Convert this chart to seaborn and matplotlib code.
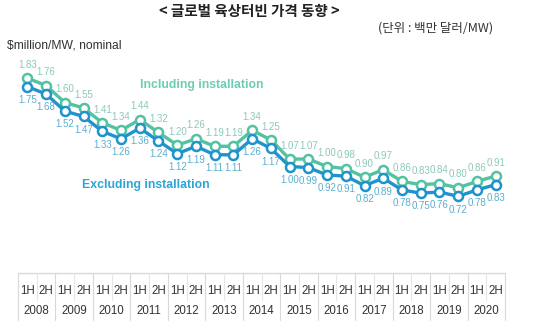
import matplotlib
matplotlib.use("Agg")
import matplotlib.pyplot as plt
import matplotlib.transforms as mtransforms
import seaborn as sns
import pandas as pd

years = ["2008", "2009", "2010", "2011", "2012", "2013", "2014",
         "2015", "2016", "2017", "2018", "2019", "2020"]
halves = ["1H", "2H"]
including = [1.83, 1.76, 1.60, 1.55, 1.41, 1.34, 1.44, 1.32, 1.20, 1.26,
             1.19, 1.19, 1.34, 1.25, 1.07, 1.07, 1.00, 0.98, 0.90, 0.97,
             0.86, 0.83, 0.84, 0.80, 0.86, 0.91]
excluding = [1.75, 1.68, 1.52, 1.47, 1.33, 1.26, 1.36, 1.24, 1.12, 1.19,
             1.11, 1.11, 1.26, 1.17, 1.00, 0.99, 0.92, 0.91, 0.82, 0.89,
             0.78, 0.75, 0.76, 0.72, 0.78, 0.83]
series_names = ["Including installation", "Excluding installation"]
title = "< 글로벌 육상터빈 가격 동향 >"
unit_note = "(단위 : 백만 달러/MW)"
y_label = "$million/MW, nominal"

periods = [f"{h} {y}" for y in years for h in halves]
idx = list(range(len(periods)))
df = pd.DataFrame({
    "idx": idx * 2,
    "value": including + excluding,
    "series": [series_names[0]] * len(idx) + [series_names[1]] * len(idx),
})

sns.set_theme(style="white")
plt.rcParams["font.family"] = ["Liberation Sans", "Noto Sans CJK KR", "DejaVu Sans"]

line_colors = {series_names[0]: "#52c2a2", series_names[1]: "#1f93cc"}
label_colors = {series_names[0]: "#8cc8bb", series_names[1]: "#5aaed0"}

fig = plt.figure(figsize=(5.33, 3.26), dpi=100)
ax = fig.add_axes([18 / 533, 1 - 273 / 326, 487 / 533, 213 / 326])

sns.lineplot(data=df, x="idx", y="value", hue="series", palette=line_colors,
             marker="o", markersize=6.5, markerfacecolor="white",
             markeredgewidth=1.8, linewidth=2.4, legend=False, ax=ax,
             zorder=3)
for line in ax.get_lines():
    line.set_markeredgecolor(line.get_color())

ax.set_xlim(-0.5, len(idx) - 0.5)
ax.set_ylim(0, 2.0)
for s in ax.spines.values():
    s.set_visible(False)
ax.set_yticks([])
ax.set_xlabel("")
ax.set_ylabel("")

# data labels
for i, v in enumerate(including):
    ax.annotate(f"{v:.2f}", (i, v), xytext=(0, 6), textcoords="offset points",
                ha="center", va="bottom", fontsize=7,
                color=label_colors[series_names[0]])
for i, v in enumerate(excluding):
    ax.annotate(f"{v:.2f}", (i, v), xytext=(0, -6), textcoords="offset points",
                ha="center", va="top", fontsize=7,
                color=label_colors[series_names[1]])

# series names
fig.text(140 / 533, 1 - 85 / 326, series_names[0], fontsize=8.8, fontweight="bold",
         color="#6ccdb2", va="center", ha="left")
fig.text(82 / 533, 1 - 185 / 326, series_names[1], fontsize=8.8, fontweight="bold",
         color="#2aa6d6", va="center", ha="left")

# table-like x axis
ax.set_xticks(idx)
ax.set_xticklabels([h for y in years for h in halves], fontsize=8.3, color="#333333")
ax.tick_params(axis="x", length=0, pad=9)
trans = mtransforms.blended_transform_factory(ax.transData, ax.transAxes)
for k, y in enumerate(years):
    ax.text(2 * k + 0.5, -0.178, y, transform=trans, ha="center", va="center",
            fontsize=8.3, color="#333333")
ax.plot([-0.5, len(idx) - 0.5], [0, 0], transform=trans, color="#d9d9d9",
        lw=1, clip_on=False)
for k in range(len(years) + 1):
    x = 2 * k - 0.5
    ax.plot([x, x], [0, -0.22], transform=trans, color="#d9d9d9", lw=0.8,
            clip_on=False)
for k in range(len(years)):
    x = 2 * k + 0.5
    ax.plot([x, x], [0, -0.125], transform=trans, color="#e6e6e6", lw=0.8,
            clip_on=False)

# titles
fig.text(249 / 533, 1 - 11 / 326, title, fontsize=10.5, fontweight="bold",
         family=["Noto Sans CJK KR", "DejaVu Sans"], ha="center", va="center",
         color="#222222")
fig.text(493 / 533, 1 - 28 / 326, unit_note, fontsize=9,
         family=["Noto Sans CJK KR", "DejaVu Sans"], ha="right", va="center",
         color="#333333")
fig.text(7 / 533, 1 - 45 / 326, y_label, fontsize=8.7, ha="left", va="center",
         color="#333333")

fig.savefig("out.png", dpi=100, facecolor="white")
